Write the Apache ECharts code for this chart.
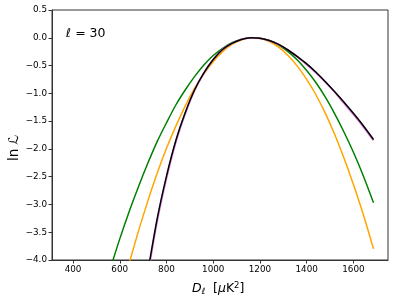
<!DOCTYPE html>
<html><head><meta charset="utf-8">
<script src="https://cdn.jsdelivr.net/npm/echarts@6/dist/echarts.min.js"></script>
<style>html,body{margin:0;padding:0;background:#fff}#c{width:399px;height:302px}</style>
</head><body><div id="c"></div>
<script>
// Data
const D = [560,600,640,680,720,760,800,840,880,920,960,1000,1040,1080,1120,1160,1200,1240,1280,1320,1360,1400,1440,1480,1520,1560,1600,1640,1686];
const greenLnL = [-4.15,-3.62,-3.13,-2.68,-2.26,-1.87,-1.53,-1.21,-0.94,-0.70,-0.49,-0.32,-0.19,-0.09,-0.03,0.00,-0.01,-0.05,-0.13,-0.25,-0.40,-0.59,-0.81,-1.07,-1.37,-1.70,-2.06,-2.46,-2.97];
const orangeLnL = [-5.39,-4.71,-4.07,-3.48,-2.94,-2.44,-1.99,-1.59,-1.23,-0.91,-0.65,-0.43,-0.25,-0.12,-0.04,0.00,-0.01,-0.07,-0.17,-0.32,-0.51,-0.75,-1.03,-1.36,-1.74,-2.17,-2.64,-3.15,-3.80];
const purpleLnL = [null,null,null,null,-4.28,-3.31,-2.53,-1.88,-1.37,-0.95,-0.64,-0.39,-0.21,-0.10,-0.03,0.00,-0.01,-0.05,-0.12,-0.22,-0.34,-0.48,-0.63,-0.80,-0.98,-1.18,-1.38,-1.59,-1.85];
const blackLnL = [null,null,null,null,-4.22,-3.26,-2.49,-1.85,-1.35,-0.94,-0.63,-0.39,-0.21,-0.10,-0.03,0.00,-0.01,-0.05,-0.12,-0.22,-0.34,-0.47,-0.62,-0.79,-0.97,-1.16,-1.36,-1.57,-1.83];
const xTicks = [400,600,800,1000,1200,1400,1600];
const yMin = -4, yMax = 0.5, yStep = 0.5;
const xMin = 310, xMax = 1748;

const pairs = arr => D.map((d,i)=>[d, arr[i]]);
const chart = echarts.init(document.getElementById('c'), null, {renderer:'canvas'});
const font = 'DejaVu Sans';
const mk = (arr, color, w, z) => ({
  type:'line', data: pairs(arr), showSymbol:false, smooth:0.3, clip:true, z:z,
  lineStyle:{color:color, width:w}, itemStyle:{color:color}
});
chart.setOption({
  animation:false,
  grid:{left:52, top:10, width:336, height:250, show:true, borderColor:'#333', borderWidth:1, backgroundColor:'transparent'},
  xAxis:{type:'value', min:xMin, max:xMax,
    axisLine:{show:true, onZero:false, lineStyle:{color:'#333', width:1}},
    axisTick:{show:true, length:3.5, inside:false, customValues:xTicks, lineStyle:{color:'#333'}},
    axisLabel:{customValues:xTicks, color:'#000', fontFamily:font, fontSize:8.8, margin:5, formatter: v => String(v)},
    splitLine:{show:false}},
  yAxis:{type:'value', min:yMin, max:yMax, interval:yStep,
    axisLine:{show:true, onZero:false, lineStyle:{color:'#333', width:1}},
    axisTick:{show:true, length:3.5, lineStyle:{color:'#333'}},
    axisLabel:{color:'#000', fontFamily:font, fontSize:8.8, margin:5,
      formatter: v => v.toFixed(1).replace('-', '\u2212')},
    splitLine:{show:false}},
  series:[
    mk(greenLnL, '#008000', 1.5, 2),
    mk(orangeLnL, '#ffa500', 1.5, 3),
    mk(purpleLnL, '#e07be0', 1.8, 4),
    mk(blackLnL, '#000000', 1.5, 5)
  ],
  graphic:[
    {type:'text', left:66, top:27, style:{text:'\u2113 = 30', font:'12.5px "DejaVu Sans"', fill:'#000'}},
    {type:'text', x:192, y:281, style:{
      rich:{
        i:{fontFamily:font, fontStyle:'italic', fontSize:12.5, fill:'#000'},
        s:{fontFamily:font, fontStyle:'italic', fontSize:8.5, fill:'#000', padding:[6,0,0,0]},
        n:{fontFamily:font, fontSize:12.5, fill:'#000'},
        p:{fontFamily:font, fontSize:8.5, fill:'#000', padding:[0,0,6,0]}
      },
      text:'{i|D}{s|\u2113}{n|  [}{i|\u03bc}{n|K}{p|2}{n|]}'}},
    {type:'text', x:7, y:161, rotation:Math.PI/2, style:{text:'ln \u2112', font:'13.5px "DejaVu Sans"', fill:'#000'}}
  ]
});
</script></body></html>
